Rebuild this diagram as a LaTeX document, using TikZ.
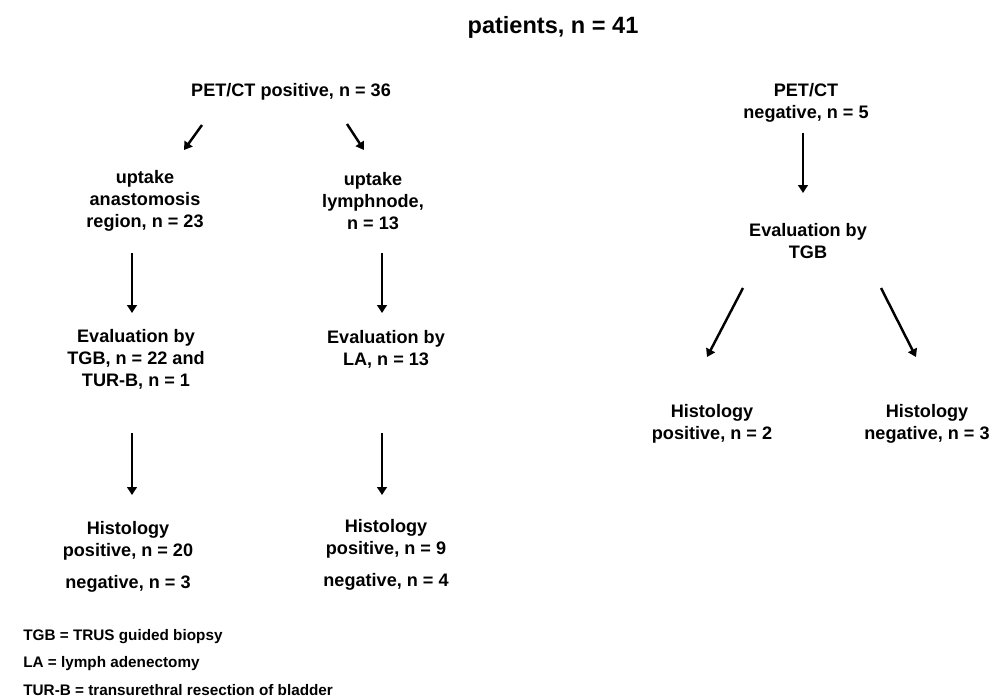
\documentclass[tikz,border=0pt]{standalone}
\usepackage{fontspec}
\setmainfont{Liberation Sans}
\usetikzlibrary{arrows.meta}
\tikzstyle{box_text}=[align=center, inner sep=0pt, font=\fontsize{10.3}{12.5}\selectfont\bfseries]
\tikzstyle{title_text}=[inner sep=0pt, font=\fontsize{13.4}{16}\selectfont\bfseries]
\tikzstyle{note_text}=[anchor=west, inner sep=0pt, font=\fontsize{8.7}{10}\selectfont\bfseries]
\tikzstyle{arrow_line}=[line width=1.4pt, -{Triangle[length=4.5pt,width=5.5pt]}]

\begin{document}
\begin{tikzpicture}[x=0.02cm, y=-0.02cm]
    \useasboundingbox (0,0) rectangle (1003,699);

    \node (T) at (553, 27) [title_text] {patients, n = 41};

    \node (PP) at (291, 92) [box_text] {PET/CT positive, n = 36};
    \node (UA) at (145, 201) [box_text] {uptake\\anastomosis\\region, n = 23};
    \node (UL) at (373, 201) [box_text] {uptake\\lymphnode,\\n = 13};
    \node (EA) at (136, 359) [box_text] {Evaluation by\\TGB, n = 22 and\\TUR-B, n = 1};
    \node (EL) at (386, 349) [box_text] {Evaluation by\\LA, n = 13};
    \node (HA) at (128, 557) [box_text] {Histology\\positive, n = 20\\[6pt]negative, n = 3};
    \node (HL) at (386, 555) [box_text] {Histology\\positive, n = 9\\[6pt]negative, n = 4};

    \node (PN) at (806, 103) [box_text] {PET/CT\\negative, n = 5};
    \node (EN) at (808, 241) [box_text] {Evaluation by\\TGB};
    \node (HP) at (712, 424) [box_text] {Histology\\positive, n = 2};
    \node (HN) at (927, 424) [box_text] {Histology\\negative, n = 3};

    \node (N1) at (23, 637) [note_text] {TGB = TRUS guided biopsy};
    \node (N2) at (23, 664) [note_text] {LA = lymph adenectomy};
    \node (N3) at (23, 690) [note_text] {TUR-B = transurethral resection of bladder};

    % arrow ends
    \coordinate (a1) at (202, 125);  \coordinate (b1) at (184, 150);
    \coordinate (a2) at (347, 124);  \coordinate (b2) at (364, 150);
    \coordinate (a3) at (132, 253);  \coordinate (b3) at (132, 313);
    \coordinate (a4) at (382, 253);  \coordinate (b4) at (382, 313);
    \coordinate (a5) at (132, 433);  \coordinate (b5) at (132, 495);
    \coordinate (a6) at (382, 433);  \coordinate (b6) at (382, 495);
    \coordinate (a7) at (803, 133);  \coordinate (b7) at (803, 193);
    \coordinate (a8) at (743, 288);  \coordinate (b8) at (707, 357);
    \coordinate (a9) at (881, 288);  \coordinate (b9) at (916, 357);

    \draw (a1) -- (b1) [arrow_line];
    \draw (a2) -- (b2) [arrow_line];
    \draw (a3) -- (b3) [arrow_line];
    \draw (a4) -- (b4) [arrow_line];
    \draw (a5) -- (b5) [arrow_line];
    \draw (a6) -- (b6) [arrow_line];
    \draw (a7) -- (b7) [arrow_line];
    \draw (a8) -- (b8) [arrow_line];
    \draw (a9) -- (b9) [arrow_line];
  \end{tikzpicture}
\end{document}
